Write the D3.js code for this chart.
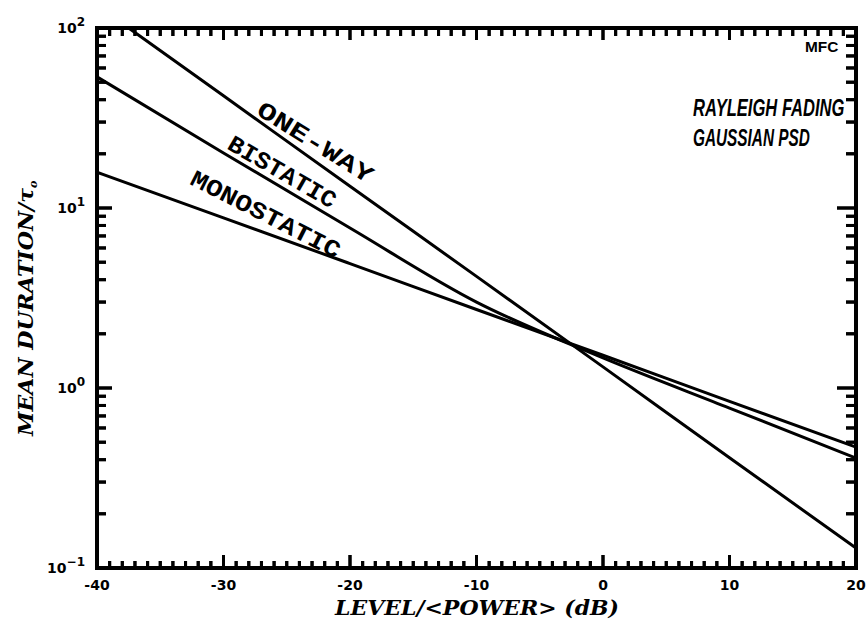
<!DOCTYPE html>
<html><head><meta charset="utf-8">
<script src="https://cdn.jsdelivr.net/npm/d3@7"></script>
<style>body{margin:0;background:#fff}svg{display:block}</style>
</head><body>
<svg id="c" width="867" height="623" xmlns="http://www.w3.org/2000/svg"></svg>
<script>
// ---- data ----
const levels = [-40, -30, -20, -10, 0, 10, 20];             // dB
const oneWayLevels = [-37.5, -30, -20, -10, 0, 10, 20];     // one-way enters the frame at the top
const oneWay = [100, 42, 13.2, 4.17, 1.31, 0.41, 0.129];
const bistatic = [53.5, 20.2, 7.74, 3.0, 1.47, 0.774, 0.408];
const monostatic = [15.8, 8.82, 4.91, 2.73, 1.52, 0.843, 0.47];
const seriesNames = ["ONE-WAY", "BISTATIC", "MONOSTATIC"];
const labelLevels = [-23.4, -25.9, -27.3];
const xTicks = [-40, -30, -20, -10, 0, 10, 20];
const yDecades = [0.1, 1, 10, 100];
const yExponents = ["\u22121", "0", "1", "2"];

const svg = d3.select("#c");
const X0 = 97, X1 = 856, Y0 = 28, Y1 = 568;
const x = d3.scaleLinear().domain([-40, 20]).range([X0, X1]);
const y = d3.scaleLog().domain([0.1, 100]).range([Y1, Y0]);

const xMinor = d3.range(-40, 21, 1).filter(v => v % 10 !== 0);
const yMinor = [];
[0.1, 1, 10].forEach(d => { for (let k = 2; k <= 9; k++) yMinor.push(d * k); });

// tick specs: [values, orientation, base, length]
const tickSpecs = [
  [xMinor, "v", Y1, -7], [xTicks, "v", Y1, -13],
  [xMinor, "v", Y0, 8], [xTicks, "v", Y0, 12],
  [yMinor, "h", X0, 9], [yDecades, "h", X0, 15],
  [yMinor, "h", X1, -10], [yDecades, "h", X1, -19]
];

// frame + all ticks in one path
const fp = d3.path();
fp.rect(X0, Y0, X1 - X0, Y1 - Y0);
tickSpecs.forEach(([vals, o, b, len]) => {
  vals.forEach(d => {
    if (o === "v") { fp.moveTo(x(d), b); fp.lineTo(x(d), b + len); }
    else { fp.moveTo(b, y(d)); fp.lineTo(b + len, y(d)); }
  });
});
svg.append("path").attr("d", fp.toString()).attr("fill", "none")
  .attr("stroke", "#000").attr("stroke-width", 3);

// heavier frame
svg.append("rect").attr("x", X0).attr("y", Y0).attr("width", X1 - X0).attr("height", Y1 - Y0)
  .attr("fill", "none").attr("stroke", "#000").attr("stroke-width", 4);

// ticks also as small rects
tickSpecs.forEach(([vals, o, b, len]) => {
  const g = svg.append("g").attr("fill", "#000");
  if (o === "v") {
    g.selectAll("rect").data(vals).join("rect")
      .attr("x", d => x(d) - 1.5).attr("width", 3)
      .attr("y", len < 0 ? b + len : b).attr("height", Math.abs(len)).attr("fill", "#000");
  } else {
    g.selectAll("rect").data(vals).join("rect")
      .attr("y", d => y(d) - 1.5).attr("height", 3)
      .attr("x", len < 0 ? b + len : b).attr("width", Math.abs(len)).attr("fill", "#000");
  }
});

// lines
const allSeries = [oneWay, bistatic, monostatic];
const allLevels = [oneWayLevels, levels, levels];
allSeries.forEach((s, k) => {
  const lv = allLevels[k];
  const line = d3.line().x((d, i) => x(lv[i])).y(d => y(d)).curve(d3.curveMonotoneX);
  svg.append("path").datum(s).attr("d", line)
    .attr("fill", "none").attr("stroke", "#000").attr("stroke-width", 3).attr("stroke-linejoin", "round");
});

// x tick labels
svg.append("g").selectAll("text").data(xTicks).join("text")
  .attr("x", d => x(d)).attr("y", Y1 + 22).attr("text-anchor", "middle")
  .attr("font-family", "DejaVu Sans").attr("font-weight", "bold").attr("font-size", 14).attr("fill", "#000")
  .text(d => (d < 0 ? "-" : "") + Math.abs(d));
// y tick labels
svg.append("g").selectAll("text").data(yDecades).join("text")
  .attr("x", X0 - 12).attr("y", d => y(d)).attr("dy", "0.35em").attr("text-anchor", "end")
  .attr("font-family", "DejaVu Sans").attr("font-weight", "bold").attr("font-size", 14).attr("fill", "#000")
  .each(function (d, i) {
    const t = d3.select(this);
    t.append("tspan").text("10");
    t.append("tspan").attr("dy", "-0.55em").attr("font-size", 12).text(yExponents[i]);
  });

// labels along lines
const labelLen = [132, 121, 165];
const labelAng = [32, 30, 27];
const labelOff = [-8, -6, -10];
allSeries.forEach((s, k) => {
  const lv = allLevels[k];
  const L = labelLevels[k];
  let i = 0; while (i < lv.length - 2 && lv[i + 1] < L) i++;
  const ya = Math.log10(s[i]), yb = Math.log10(s[i + 1]);
  const t = (L - lv[i]) / (lv[i + 1] - lv[i]);
  const px = x(L), py = y(Math.pow(10, ya + t * (yb - ya)));
  svg.append("text")
    .attr("transform", `translate(${px},${py}) rotate(${labelAng[k]})`)
    .attr("y", labelOff[k]).attr("text-anchor", "middle")
    .attr("font-family", "Liberation Mono").attr("font-weight", "bold").attr("font-size", 24)
    .attr("textLength", labelLen[k]).attr("lengthAdjust", "spacingAndGlyphs")
    .attr("fill", "#000").text(seriesNames[k]);
});

// annotation (horizontally condensed via scale)
const annStyle = g => g.attr("font-family", "Liberation Sans").attr("font-weight", "bold")
  .attr("font-style", "italic").attr("font-size", 24).attr("fill", "#000");
svg.append("text").attr("transform", "translate(693,116) scale(0.69,1)").call(annStyle).text("RAYLEIGH FADING");
svg.append("text").attr("transform", "translate(693,146) scale(0.64,1)").call(annStyle).text("GAUSSIAN PSD");
svg.append("text").attr("transform", "translate(805,52) scale(1.1,1)").attr("font-family", "Liberation Sans")
  .attr("font-weight", "bold").attr("font-size", 14).attr("fill", "#000").text("MFC");

// axis titles
svg.append("text").attr("x", 477).attr("y", 615).attr("text-anchor", "middle")
  .attr("font-family", "DejaVu Serif").attr("font-weight", "bold").attr("font-style", "italic")
  .attr("font-size", 20).attr("textLength", 284).attr("lengthAdjust", "spacingAndGlyphs")
  .attr("fill", "#000").text("LEVEL/<POWER> (dB)");
const yt = svg.append("text").attr("transform", "translate(33,436) rotate(-90)")
  .attr("font-family", "DejaVu Serif").attr("font-weight", "bold").attr("font-style", "italic")
  .attr("font-size", 20).attr("fill", "#000");
yt.append("tspan").attr("textLength", 248).attr("lengthAdjust", "spacingAndGlyphs").text("MEAN DURATION/\u03c4");
yt.append("tspan").attr("dy", 4).attr("font-size", 11).text("o");
</script>
</body></html>
